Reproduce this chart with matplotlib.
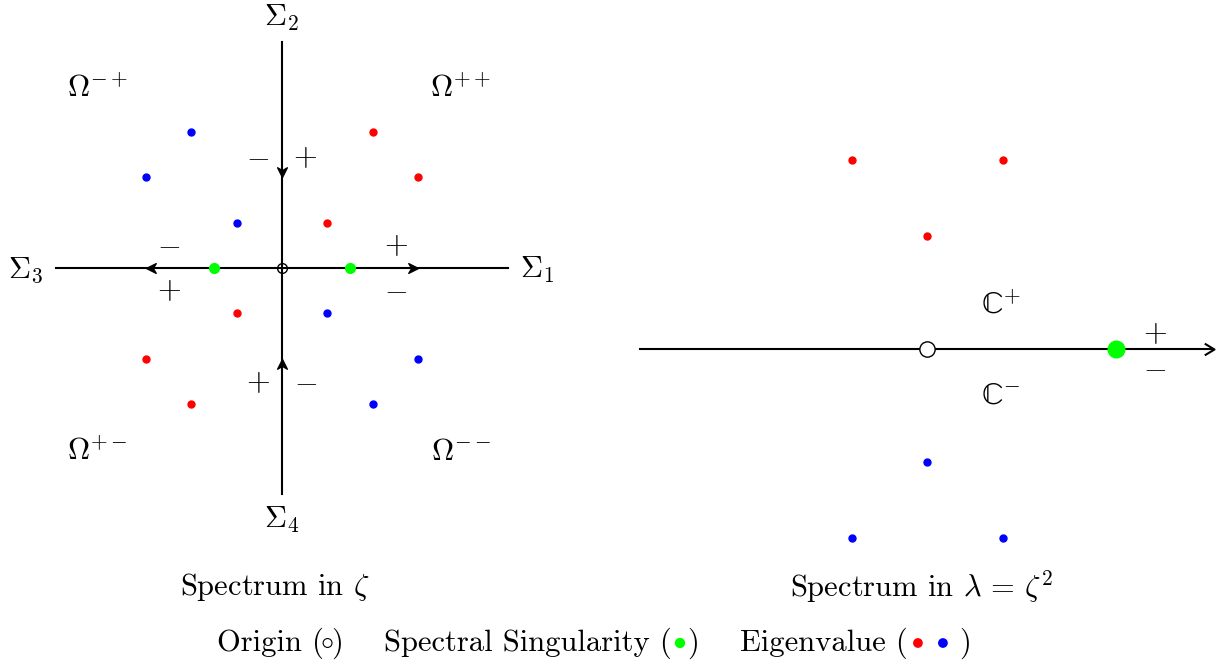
import matplotlib
matplotlib.use('Agg')
import matplotlib.pyplot as plt
from matplotlib.path import Path
from matplotlib.markers import MarkerStyle
from matplotlib.transforms import Affine2D
from matplotlib.patches import Circle
from matplotlib.offsetbox import TextArea, DrawingArea, HPacker, AnchoredOffsetbox

plt.rcParams['font.family'] = 'cmr10'
plt.rcParams['mathtext.fontset'] = 'cm'
plt.rcParams['axes.unicode_minus'] = False

# eigenvalues in zeta plane
zeta_red_x = [1, 2, 3, -1, -2, -3]
zeta_red_y = [1, 3, 2, -1, -3, -2]
zeta_blue_x = [-1, -2, -3, 1, 2, 3]
zeta_blue_y = [1, 3, 2, -1, -3, -2]
zeta_sing_x = [1.5, -1.5]
# schematic lambda plane
lam_red_x = [0, -1, 1]
lam_red_y = [1.5, 2.5, 2.5]
lam_blue_x = [0, -1, 1]
lam_blue_y = [-1.5, -2.5, -2.5]
lam_sing_x = [2.5]

RED, BLUE, GREEN = '#ff0000', '#0000ff', '#00ff00'
FS = 22
W, H = 1223, 669
fig = plt.figure(figsize=(W / 100, H / 100), dpi=100)


def place(cx, cy, s, xlim, ylim):
    left = cx + xlim[0] * s
    width = (xlim[1] - xlim[0]) * s
    top = cy - ylim[1] * s
    height = (ylim[1] - ylim[0]) * s
    ax = fig.add_axes([left / W, 1 - (top + height) / H, width / W, height / H])
    ax.set_xlim(xlim)
    ax.set_ylim(ylim)
    ax.axis('off')
    return ax


def stealth(angle):
    p = Path([(0, 0), (-1, 0.5), (-0.7, 0), (-1, -0.5), (0, 0)],
             [Path.MOVETO, Path.LINETO, Path.LINETO, Path.LINETO, Path.CLOSEPOLY])
    return MarkerStyle(p, transform=Affine2D().rotate_deg(angle))


def chevron():
    p = Path([(-1, 0.6), (0, 0), (-1, -0.6)])
    return MarkerStyle(p, fillstyle='none')


# ---- left panel: zeta ----
ax1 = place(282, 268, 45.3, (-6, 6), (-6, 6))
ax1.plot([-5, 5], [0, 0], color='black', lw=1.5)
ax1.plot([0, 0], [-5, 5], color='black', lw=1.5)
for x, y, a in [(3, 0, 0), (-3, 0, 180), (0, 2, -90), (0, -2, 90)]:
    ax1.plot([x], [y], marker=stealth(a), markersize=14, color='black', ls='none')
ax1.plot([0], [0], marker='o', markersize=7, mfc='none', mec='black', mew=1, ls='none', zorder=5)
ax1.plot(zeta_red_x, zeta_red_y, 'o', color=RED, markersize=5)
ax1.plot(zeta_blue_x, zeta_blue_y, 'o', color=BLUE, markersize=5)
ax1.plot(zeta_sing_x, [0, 0], 'o', color=GREEN, markersize=7, zorder=4)

ax1.text(0, 5.52, r'$\Sigma_2$', fontsize=FS, ha='center', va='center')
ax1.text(0, -5.56, r'$\Sigma_4$', fontsize=FS, ha='center', va='center')
ax1.text(-5.65, -0.04, r'$\Sigma_3$', fontsize=FS, ha='center', va='center')
ax1.text(5.63, -0.04, r'$\Sigma_1$', fontsize=FS, ha='center', va='center')
ax1.text(-4.07, 3.97, r'$\Omega^{-+}$', fontsize=FS, ha='center', va='center')
ax1.text(3.95, 3.97, r'$\Omega^{++}$', fontsize=FS, ha='center', va='center')
ax1.text(-4.07, -4.06, r'$\Omega^{+-}$', fontsize=FS, ha='center', va='center')
ax1.text(3.95, -4.06, r'$\Omega^{--}$', fontsize=FS, ha='center', va='center')
signs = [(-0.53, 2.45, '-'), (0.51, 2.45, '+'), (-0.53, -2.52, '+'), (0.51, -2.52, '-'),
         (-2.5, 0.49, '-'), (-2.5, -0.49, '+'), (2.51, 0.49, '+'), (2.51, -0.49, '-')]
for x, y, s in signs:
    ax1.text(x, y, '$' + s + '$', fontsize=FS, ha='center', va='center')
ax1.text(-0.15, -7.04, r'Spectrum in $\zeta$', fontsize=FS, ha='center', va='center')

# ---- right panel: lambda ----
ax2 = place(927, 349, 75.5, (-4, 4), (-3, 3))
ax2.plot([-3.8, 3.78], [0, 0], color='black', lw=1.5)
ax2.plot([3.8], [0], marker=chevron(), markersize=14, color='black', mew=1.5, ls='none')
ax2.plot([0], [0], marker='o', markersize=11, mfc='white', mec='black', mew=1, ls='none', zorder=5)
ax2.plot(lam_red_x, lam_red_y, 'o', color=RED, markersize=5)
ax2.plot(lam_blue_x, lam_blue_y, 'o', color=BLUE, markersize=5)
ax2.plot(lam_sing_x, [0], 'o', color=GREEN, markersize=12, zorder=4)
ax2.text(0.98, 0.58, '$\\mathrm{\u2102}^{+}$', fontsize=FS, ha='center', va='center')
ax2.text(0.98, -0.62, '$\\mathrm{\u2102}^{-}$', fontsize=FS, ha='center', va='center')
ax2.text(3.02, 0.21, '$+$', fontsize=FS, ha='center', va='center')
ax2.text(3.02, -0.25, '$-$', fontsize=FS, ha='center', va='center')
ax2.text(-0.07, -3.15, r'Spectrum in $\lambda\,=\,\zeta^2$', fontsize=FS, ha='center', va='center')


# ---- legend row ----
def txt(s):
    return TextArea(s, textprops=dict(fontsize=FS))


def dots(colors, r=3.2, step=12, left=6, right=6, hollow=False):
    da = DrawingArea(left + right + step * (len(colors) - 1), 14)
    for i, c in enumerate(colors):
        if hollow:
            da.add_artist(Circle((left + i * step, 7), r, facecolor='none', edgecolor=c, lw=0.8))
        else:
            da.add_artist(Circle((left + i * step, 7), r, color=c))
    return da


def gap(w):
    return DrawingArea(w, 1)


row = HPacker(children=[txt('Origin ('), dots(['black'], r=3.2, left=3, right=3, hollow=True),
                        txt(')'), gap(29),
                        txt('Spectral Singularity ('), dots([GREEN], left=6, right=5), txt(')'), gap(30),
                        txt('Eigenvalue ('), dots([RED, BLUE], r=3.0, step=18, left=7, right=12),
                        txt(')')],
              align='center', pad=0, sep=0)
box = AnchoredOffsetbox(loc='center', child=row, frameon=False, pad=0, borderpad=0,
                        bbox_to_anchor=(594 / W, 1 - 643 / H), bbox_transform=fig.transFigure)
fig.add_artist(box)

fig.savefig('out.png', dpi=100)
